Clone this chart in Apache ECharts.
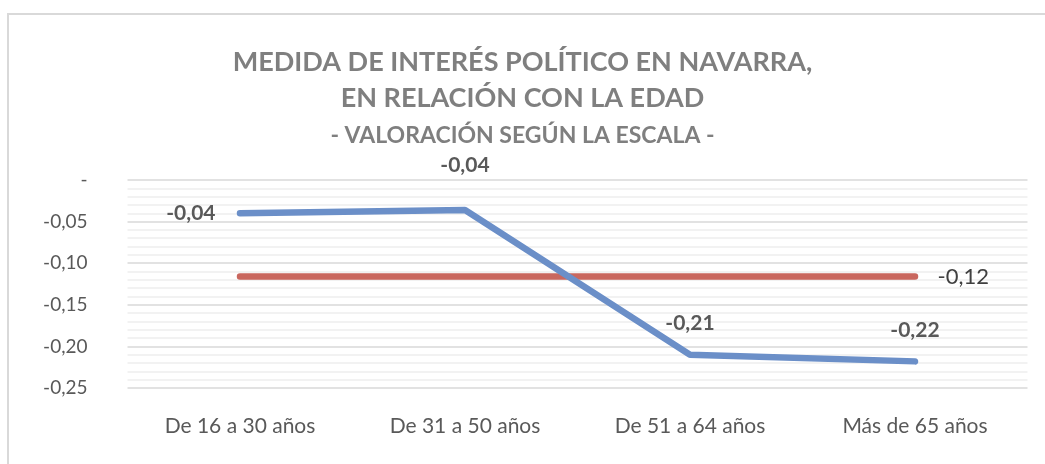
<!DOCTYPE html>
<html>
<head>
    <meta charset="utf-8">
    <script src="https://cdn.jsdelivr.net/npm/echarts@6/dist/echarts.min.js"></script>
    <style>
    html, body { margin: 0; padding: 0; background: #fff; }
    #main { width: 1045px; height: 464px; }
    </style>
    <title>Medida de interés político en Navarra</title>
</head>
<body>
    <div id="main"></div>
    <script type="text/javascript">

        // datos
        var categorias = ['De 16 a 30 años', 'De 31 a 50 años', 'De 51 a 64 años', 'Más de 65 años'];
        var valoracion = [-0.040, -0.036, -0.210, -0.218];
        var media = [-0.116, -0.116, -0.116, -0.116];

        var font = 'Lato, "Noto Sans", sans-serif';

        function coma(v) {
            return v.toFixed(2).replace('.', ',');
        }

        var myChart = echarts.init(document.getElementById('main'));

        var option = {
            animation: false,
            title: {
                text: 'MEDIDA DE INTERÉS POLÍTICO EN NAVARRA,\nEN RELACIÓN CON LA EDAD',
                subtext: '- VALORACIÓN SEGÚN LA ESCALA -',
                left: 'center',
                top: 39,
                itemGap: 2,
                textStyle: { fontFamily: font, fontSize: 27, fontWeight: 'bold', color: '#7f7f7f', lineHeight: 36 },
                subtextStyle: { fontFamily: font, fontSize: 23, fontWeight: 'bold', color: '#7f7f7f', lineHeight: 36 }
            },
            graphic: [{
                type: 'rect',
                shape: { x: 8, y: 14, width: 1060, height: 470 },
                style: { fill: null, stroke: '#d9d9d9', lineWidth: 2 },
                silent: true
            }],
            grid: { left: 127.5, right: 17.5, top: 180, bottom: 76 },
            xAxis: {
                type: 'category',
                data: categorias,
                axisLine: { show: false },
                axisTick: { show: false },
                axisLabel: { margin: 28, fontFamily: font, fontSize: 21, color: '#595959' }
            },
            yAxis: {
                type: 'value',
                min: -0.25,
                max: 0,
                interval: 0.05,
                axisLabel: {
                    margin: 40, fontFamily: font, fontSize: 19, color: '#595959',
                    formatter: function (v) { return Math.abs(v) < 1e-9 ? '-' : coma(v); }
                },
                splitLine: { lineStyle: { color: '#d9d9d9', width: 1.5 } },
                minorTick: { show: false, splitNumber: 5 },
                minorSplitLine: { show: true, lineStyle: { color: '#eeeeee', width: 1.5 } }
            },
            series: [
                {
                    name: 'Valoración',
                    type: 'line',
                    data: [
                        { value: valoracion[0], label: { position: 'left', distance: 24 } },
                        { value: valoracion[1], label: { position: 'top', distance: 34 } },
                        { value: valoracion[2], label: { position: 'top', distance: 20 } },
                        { value: valoracion[3], label: { position: 'top', distance: 20 } }
                    ],
                    symbol: 'circle',
                    symbolSize: 1,
                    itemStyle: { color: '#6b8fc8' },
                    lineStyle: { color: '#6b8fc8', width: 6.5, cap: 'round', join: 'round' },
                    label: {
                        show: true, fontFamily: font, fontSize: 21, fontWeight: 'bold', color: '#595959',
                        formatter: function (p) { return coma(p.value); }
                    },
                    z: 3
                },
                {
                    name: 'Media',
                    type: 'line',
                    data: media.map(function (v, i) {
                        return i === media.length - 1
                            ? { value: v, label: { show: true, position: 'right', distance: 22 } }
                            : v;
                    }),
                    symbol: 'circle',
                    symbolSize: 1,
                    itemStyle: { color: '#c9675e' },
                    lineStyle: { color: '#c9675e', width: 6.5, cap: 'round' },
                    label: { show: false, fontFamily: font, fontSize: 22, color: '#404040',
                             formatter: function (p) { return coma(p.value); } },
                    z: 2
                }
            ]
        };
        myChart.setOption(option);

    </script>
</body>
</html>
